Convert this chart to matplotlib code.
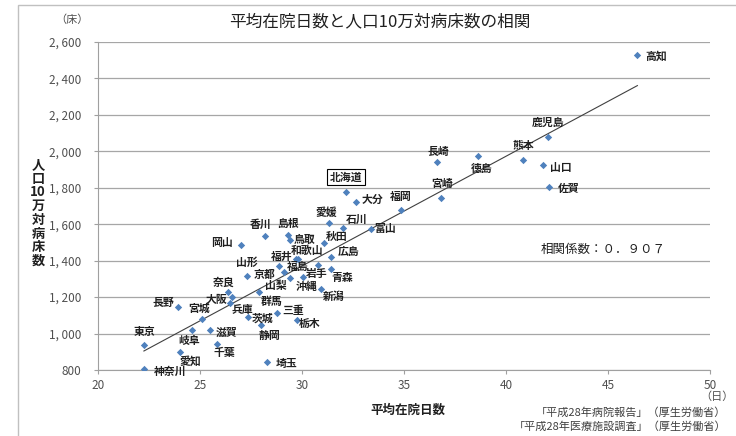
import numpy as np
import matplotlib
matplotlib.use("Agg")
import matplotlib.pyplot as plt
from matplotlib.patches import Rectangle

plt.rcParams["font.family"] = ["Noto Sans CJK JP", "DejaVu Sans"]

# prefecture, average length of stay (days), beds per 100k population
prefs = ["北海道", "青森", "岩手", "宮城", "秋田", "山形", "福島", "茨城", "栃木", "群馬",
         "埼玉", "千葉", "東京", "神奈川", "新潟", "富山", "石川", "福井", "山梨", "長野",
         "岐阜", "静岡", "愛知", "三重", "滋賀", "京都", "大阪", "兵庫", "奈良", "和歌山",
         "鳥取", "島根", "岡山", "広島", "山口", "徳島", "香川", "愛媛", "高知", "福岡",
         "佐賀", "長崎", "熊本", "大分", "宮崎", "鹿児島", "沖縄"]
stay_days = [32.14, 31.42, 30.80, 25.08, 31.09, 27.29, 29.79, 27.99, 29.74, 27.91,
             28.27, 25.82, 22.25, 22.25, 30.92, 33.38, 32.02, 28.87, 29.41, 23.91,
             24.59, 26.47, 24.02, 28.79, 25.49, 29.12, 26.55, 27.34, 26.39, 29.71,
             29.41, 29.30, 27.01, 31.41, 41.83, 38.61, 28.19, 31.32, 46.44, 34.84,
             42.12, 36.63, 40.85, 32.63, 36.81, 42.04, 30.03]
beds = [1775, 1354, 1376, 1078, 1495, 1316, 1409, 1047, 1074, 1228,
        846, 941, 937, 804, 1243, 1572, 1581, 1371, 1303, 1144,
        1020, 1166, 897, 1114, 1020, 1339, 1202, 1089, 1230, 1408,
        1513, 1541, 1486, 1418, 1923, 1973, 1535, 1605, 2527, 1680,
        1804, 1941, 1952, 1720, 1746, 2080, 1312]

# label offsets in pixels (dx right, dy down) relative to each point
label_offsets = {
    "北海道": (0, -15), "青森": (11, 9), "岩手": (-2, 9), "宮城": (-3, -11),
    "秋田": (12, -6), "山形": (0, -13), "福島": (0, 8), "茨城": (2, -6),
    "栃木": (13, 4), "群馬": (12, 10), "埼玉": (20, 2), "千葉": (8, 9),
    "東京": (1, -13), "神奈川": (26, 2), "新潟": (13, 7), "富山": (14, 0),
    "石川": (14, -8), "福井": (3, -9), "山梨": (-14, 7), "長野": (-14, -4),
    "岐阜": (-2, 11), "静岡": (40, 33), "愛知": (10, 9), "三重": (16, -2),
    "滋賀": (17, 3), "京都": (-19, 3), "大阪": (-15, 3), "兵庫": (-5, -7),
    "奈良": (-5, -9), "和歌山": (11, -8), "鳥取": (15, 0), "島根": (0, -11),
    "岡山": (-19, -2), "広島": (18, -5), "山口": (18, 3), "徳島": (4, 12),
    "香川": (-4, -12), "愛媛": (-3, -11), "高知": (19, 1), "福岡": (0, -13),
    "佐賀": (19, 2), "長崎": (1, -10), "熊本": (0, -14), "大分": (17, -3),
    "宮崎": (1, -14), "鹿児島": (1, -14), "沖縄": (4, 10),
}

x_ticks = [20, 25, 30, 35, 40, 45, 50]
y_ticks = [800, 1000, 1200, 1400, 1600, 1800, 2000, 2200, 2400, 2600]
corr_text = "相関係数：０．９０７"

fig = plt.figure(figsize=(7.36, 4.36), dpi=100)
fig.patches.append(Rectangle((18 / 736, -0.1), 1.2, 1 - 5 / 436 + 0.1,
                             transform=fig.transFigure, fill=False,
                             edgecolor="#c0c0c0", linewidth=1))
ax = fig.add_axes([98 / 736, 1 - 370 / 436, 612 / 736, 328 / 436])

ax.scatter(stay_days, beds, marker="D", s=14, color="#4f81bd", zorder=3, linewidths=0)

# linear trend line
k, b = np.polyfit(stay_days, beds, 1)
xs = np.array([min(stay_days), max(stay_days)])
ax.plot(xs, k * xs + b, color="#404040", linewidth=0.8, zorder=2)

for name, xv, yv in zip(prefs, stay_days, beds):
    dx, dy = label_offsets[name]
    box = None
    if name == "北海道":
        box = dict(boxstyle="square,pad=0.25", facecolor="white", edgecolor="black", linewidth=0.8)
    ax.annotate(name, (xv, yv), xytext=(dx, -dy), textcoords="offset pixels",
                ha="center", va="center", fontsize=7.8, fontweight="bold",
                color="#202020", bbox=box, zorder=4)

ax.set_xlim(20, 50)
ax.set_ylim(800, 2600)
ax.set_xticks(x_ticks)
ax.set_yticks(y_ticks)
ax.set_yticklabels([f"{v:,}".replace(",", ", ") for v in y_ticks])
ax.tick_params(axis="both", labelsize=8.5, labelcolor="#505050", color="#a0a0a0", length=3)
ax.tick_params(axis="y", pad=9)
ax.grid(axis="y", color="#a6a6a6", linewidth=0.9)
ax.set_axisbelow(True)
for side in ["top", "right"]:
    ax.spines[side].set_visible(False)
for side in ["left", "bottom"]:
    ax.spines[side].set_color("#a0a0a0")

ax.text(603 / 736, 1 - 249 / 436, corr_text, transform=fig.transFigure, fontsize=9,
        ha="center", va="center", color="#202020")

fig.text(380 / 736, 1 - 22 / 436, "平均在院日数と人口10万対病床数の相関", fontsize=12,
         ha="center", va="center", color="#202020")
fig.text(72 / 736, 1 - 20 / 436, "（床）", fontsize=8, ha="center", va="center", color="#505050")
fig.text(717 / 736, 1 - 397 / 436, "（日）", fontsize=8, ha="center", va="center", color="#505050")
fig.text(38 / 736, 1 - 213 / 436, "人\n口\n10\n万\n対\n病\n床\n数", fontsize=9.5,
         fontweight="bold", ha="center", va="center", linespacing=0.97, color="#202020")
fig.text(408 / 736, 1 - 410 / 436, "平均在院日数", fontsize=9, fontweight="bold",
         ha="center", va="center", color="#202020")
fig.text(726 / 736, 1 - 413 / 436, "「平成28年病院報告」（厚生労働省）", fontsize=8,
         ha="right", va="center", color="#404040")
fig.text(726 / 736, 1 - 427 / 436, "「平成28年医療施設調査」（厚生労働省）", fontsize=8,
         ha="right", va="center", color="#404040")

fig.savefig("out.png", dpi=100)
